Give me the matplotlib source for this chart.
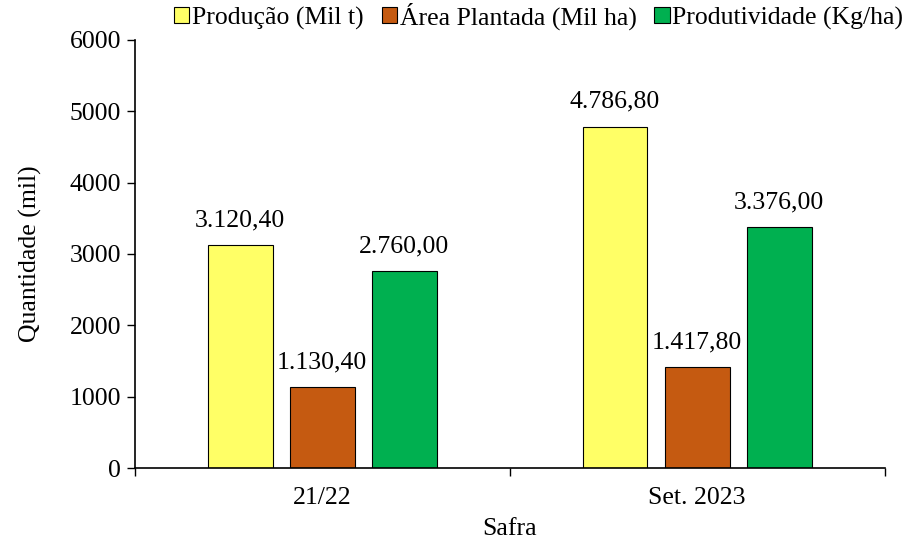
import matplotlib.pyplot as plt
import numpy as np

plt.rcParams['font.family'] = ['Liberation Serif', 'DejaVu Serif']

categories = ['21/22', 'Set. 2023']
series = ['Produção (Mil t)', 'Área Plantada (Mil ha)', 'Produtividade (Kg/ha)']
values = [
    [3120.40, 4786.80],
    [1130.40, 1417.80],
    [2760.00, 3376.00],
]
colors = ['#FFFF66', '#C55A11', '#00B050']

FS = 18.5


def fmt(v):
    s = '{:,.2f}'.format(v)
    return s.replace(',', 'X').replace('.', ',').replace('X', '.')


fig = plt.figure(figsize=(9.11, 5.4), dpi=100)
ax = fig.add_axes([0.148, 0.1333, 0.823, 0.7927])

x = np.arange(len(categories))
width = 0.173
step = 0.219
for i, (name, vals, c) in enumerate(zip(series, values, colors)):
    pos = x + (i - 1) * step
    bars = ax.bar(pos, vals, width, color=c, edgecolor='black', linewidth=0.8, label=name)
    for b, v in zip(bars, vals):
        ax.annotate(fmt(v), (b.get_x() + b.get_width() / 2, v),
                    xytext=(0, 10), textcoords='offset points',
                    ha='center', va='bottom', fontsize=FS)

ax.set_xlim(-0.5, 1.5)
ax.set_ylim(0, 6000)
ax.set_yticks(range(0, 6001, 1000))
ax.set_xticks([-0.5, 0.5, 1.5], minor=False)
ax.set_xticklabels([])
ax.set_xticks(x, minor=True)
ax.set_xticklabels(categories, minor=True)
ax.tick_params(axis='x', which='minor', length=0, pad=14, labelsize=FS)
ax.tick_params(axis='x', which='major', length=6, width=1, direction='out')
ax.tick_params(axis='y', length=6, width=1, direction='out', labelsize=FS, pad=4)

for s in ['top', 'right']:
    ax.spines[s].set_visible(False)
ax.spines['left'].set_linewidth(1.2)
ax.spines['bottom'].set_linewidth(1.2)

ax.set_ylabel('Quantidade (mil)', fontsize=FS, labelpad=20)
ax.set_xlabel('Safra', fontsize=FS, labelpad=6)

fig.legend(loc='upper right', bbox_to_anchor=(1.003, 1.015), ncol=3, frameon=False,
           fontsize=FS, handlelength=0.6, handleheight=0.6, handletextpad=0.1,
           columnspacing=0.7, borderaxespad=0)

fig.savefig('out.png', dpi=100)
